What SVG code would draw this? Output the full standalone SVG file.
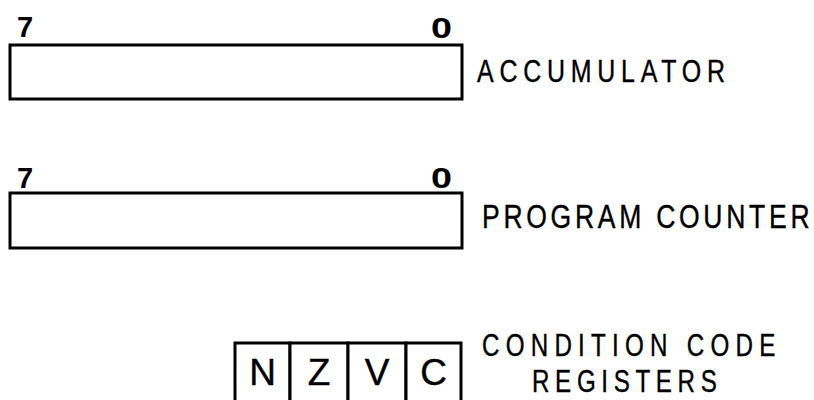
<svg xmlns="http://www.w3.org/2000/svg" width="814" height="400" viewBox="0 0 814 400">
<style>
.reg{fill:#fff;stroke:#000;stroke-width:3}
.bit{font-family:"Liberation Sans",Arial,sans-serif;font-weight:bold;font-size:29px;fill:#000}
.lbl{font-family:"Liberation Sans",Arial,sans-serif;fill:#000;stroke:#000;stroke-width:0.4}
.flag{font-family:"Liberation Sans",Arial,sans-serif;font-size:37px;fill:#000;stroke:#000;stroke-width:0.4;text-anchor:middle}
</style>
<rect width="814" height="400" fill="#fff"/>
<g id="accumulator">
<rect class="reg" x="10" y="45" width="452" height="54"/>
<text class="bit" x="17" y="37">7</text>
<text class="bit" transform="translate(431,38) scale(1.3,1)">0</text>
<text class="lbl" transform="translate(477,82) scale(0.78,1)" font-size="32" textLength="318" lengthAdjust="spacing">ACCUMULATOR</text>
</g>
<g id="program-counter">
<rect class="reg" x="10" y="193" width="452" height="55"/>
<text class="bit" x="17" y="188">7</text>
<text class="bit" transform="translate(431,188) scale(1.3,1)">0</text>
<text class="lbl" transform="translate(482,228) scale(0.78,1)" font-size="34" textLength="420" lengthAdjust="spacing">PROGRAM COUNTER</text>
</g>
<g id="condition-code-registers">
<rect class="reg" x="235" y="343" width="55" height="62"/>
<rect class="reg" x="290" y="343" width="58" height="62"/>
<rect class="reg" x="348" y="343" width="58" height="62"/>
<rect class="reg" x="406" y="343" width="55" height="62"/>
<text class="flag" x="262.5" y="385">N</text>
<text class="flag" x="319" y="385">Z</text>
<text class="flag" x="377" y="385">V</text>
<text class="flag" x="433.5" y="385">C</text>
<text class="lbl" transform="translate(482,356) scale(0.78,1)" font-size="31" textLength="376" lengthAdjust="spacing">CONDITION CODE</text>
<text class="lbl" transform="translate(532,392) scale(0.78,1)" font-size="31" textLength="237" lengthAdjust="spacing">REGISTERS</text>
</g>
</svg>
